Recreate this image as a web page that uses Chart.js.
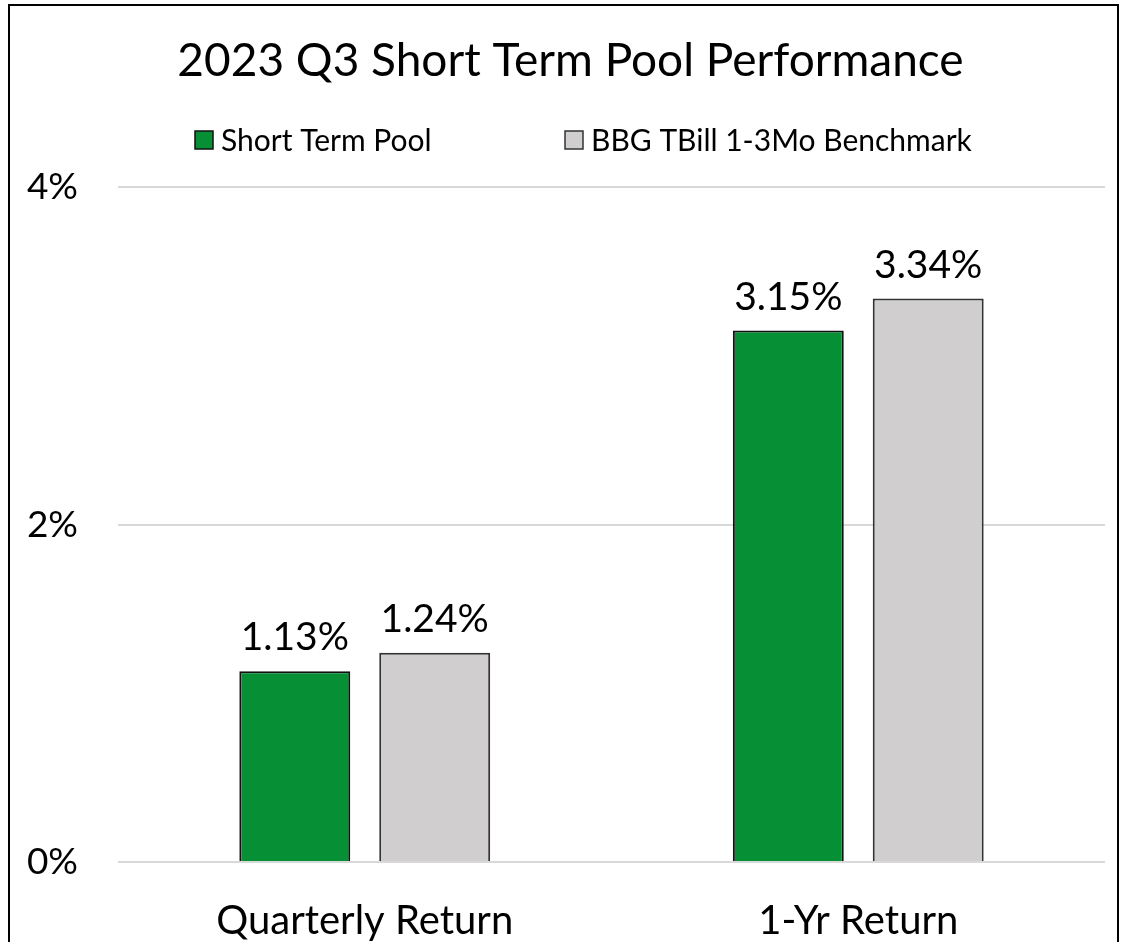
<!DOCTYPE html>
<html>
<head>
<meta charset="utf-8">
<script src="https://cdn.jsdelivr.net/npm/chart.js@4"></script>
<style>
  body { margin: 0; background: #fff; }
  canvas { display: block; }
</style>
</head>
<body>
<canvas id="pool" width="1122" height="942"></canvas>
<script>
const categories = ["Quarterly Return", "1-Yr Return"];
const poolValues = [1.13, 3.15];
const benchValues = [1.24, 3.34];
const seriesNames = ["Short Term Pool", "BBG TBill 1-3Mo Benchmark"];
const yTicks = [0, 2, 4];

// outer frame like the excel chart border
const frame = {
  id: "frame",
  afterLayout(chart) {
    // excel centres the title a bit right of the canvas middle
    if (chart.titleBlock) chart.titleBlock.left += 28;
  },
  beforeDraw(chart) {
    const c = chart.ctx;
    c.save();
    c.fillStyle = "#fff";
    c.fillRect(0, 0, chart.width, chart.height);
    c.strokeStyle = "#000";
    c.lineWidth = 2;
    c.beginPath();
    c.moveTo(9, chart.height + 5);
    c.lineTo(9, 5);
    c.lineTo(1118, 5);
    c.lineTo(1118, chart.height + 5);
    c.stroke();
    c.restore();
  },
};

// legend drawn by hand so the spacing matches (space reserved by title padding)
const legendBoxes = {
  id: "legendBoxes",
  afterDraw(chart) {
    const c = chart.ctx;
    const xs = [195, 565];
    const y = 140;
    c.save();
    c.font = "30px Lato";
    c.textBaseline = "middle";
    c.textAlign = "left";
    chart.data.datasets.forEach((ds, i) => {
      c.fillStyle = ds.backgroundColor;
      c.fillRect(xs[i], y - 9, 18, 18);
      c.strokeStyle = ds.borderColor;
      c.lineWidth = 1.5;
      c.strokeRect(xs[i], y - 9, 18, 18);
      c.fillStyle = "#000";
      c.fillText(ds.label, xs[i] + 26, y + 1);
    });
    c.restore();
  },
};

// value labels above bars
const valueLabels = {
  id: "valueLabels",
  afterDatasetsDraw(chart) {
    const c = chart.ctx;
    c.save();
    c.font = "39px Lato";
    c.fillStyle = "#000";
    c.textAlign = "center";
    c.textBaseline = "alphabetic";
    chart.data.datasets.forEach((ds, i) => {
      chart.getDatasetMeta(i).data.forEach((bar, j) => {
        c.fillText(ds.data[j].toFixed(2) + "%", bar.x, bar.y - 21);
      });
    });
    c.restore();
  },
};

new Chart(document.getElementById("pool"), {
  type: "bar",
  data: {
    labels: categories,
    datasets: [
      {
        label: seriesNames[0],
        data: poolValues,
        backgroundColor: "#078F36",
        borderColor: "#111",
        borderWidth: 2,
      },
      {
        label: seriesNames[1],
        data: benchValues,
        backgroundColor: "#D0CECE",
        borderColor: "#333",
        borderWidth: 2,
      },
    ],
  },
  options: {
    responsive: false,
    animation: false,
    categoryPercentage: 0.567,
    barPercentage: 0.793,
    layout: { padding: { left: 8, right: 17, top: 0, bottom: 0 } },
    plugins: {
      title: {
        display: true,
        text: "2023 Q3 Short Term Pool Performance",
        color: "#000",
        font: { family: "Lato", size: 46, weight: "normal" },
        padding: { top: 34, bottom: 98 },
      },
      legend: { display: false },
      tooltip: { enabled: false },
    },
    scales: {
      x: {
        grid: { display: false },
        border: { display: false },
        ticks: {
          color: "#000",
          font: { family: "Lato", size: 40 },
          padding: 27,
        },
        afterFit(scale) {
          scale.height = 80;
        },
      },
      y: {
        min: 0,
        max: 4,
        border: { display: false },
        grid: { color: "#D9D9D9", lineWidth: 2, drawTicks: false },
        afterBuildTicks(scale) {
          scale.ticks = yTicks.map((v) => ({ value: v }));
        },
        ticks: {
          color: "#000",
          font: { family: "Lato", size: 37 },
          padding: 40,
          callback: (v) => v + "%",
        },
        afterFit(scale) {
          scale.width = 110;
        },
      },
    },
  },
  plugins: [frame, legendBoxes, valueLabels],
});
</script>
</body>
</html>
